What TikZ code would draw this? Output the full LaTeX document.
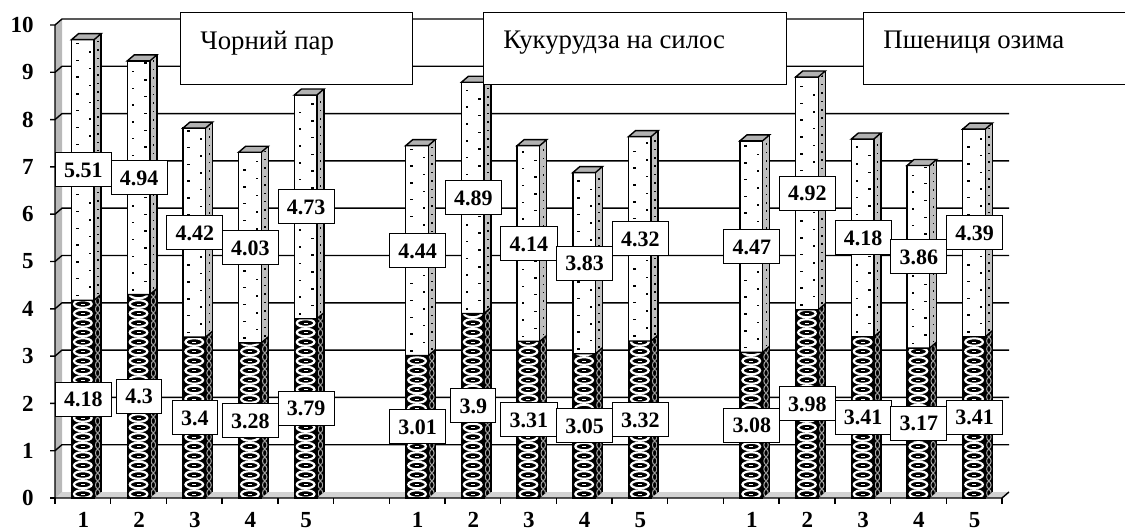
\documentclass[tikz,border=0pt]{standalone}
\usepackage{fontspec}
\setmainfont{Liberation Serif}
\usetikzlibrary{calc}

\begin{document}
\begin{tikzpicture}[%
    x=0.5pt, y=0.5pt,           % one unit is one pixel of the chart
    line join=miter,
    ]
% -------------------------------------------------
% A few styles
\tikzset{
  grid/.style={line width=0.7pt, black},
  face/.style={draw=black, line width=0.7pt},
  val/.style={draw, line width=0.5pt, fill=white, inner xsep=4.4pt, inner ysep=4.7pt,
      text height=7.6pt, text depth=0pt, font=\bfseries\fontsize{11}{13}\selectfont},
  axnum/.style={inner sep=0pt, font=\bfseries\fontsize{11.5}{13}\selectfont},
  legbox/.style={draw, line width=0.65pt, fill=white, minimum height=36pt, anchor=south west},
  legtext/.style={inner sep=0pt, anchor=base west, font=\fontsize{13.4}{15}\selectfont}
}
\useasboundingbox (0,0) rectangle (1125,531);
\clip (0,0) rectangle (1125,531);
% -------------------------------------------------
% Floor, wall and grid
\fill[gray!35] (55,33) -- (1002,33) -- (1009,39) -- (62,39) -- cycle;
\fill[gray!55] (55,33) -- (62,39) -- (62,512) -- (55,506) -- cycle;
\foreach \v in {1,...,10}
  \draw[grid] (50,33+47.3*\v) -- (55,33+47.3*\v) -- (62,39+47.3*\v) -- (1009,39+47.3*\v);
\draw[grid] (55,506) -- (55,33) -- (1002,33) -- (1009,39);
\draw[grid] (50,33) -- (55,33);
\foreach \k in {0,...,17}
  \draw[grid] (55+55.7*\k,33) -- (55+55.7*\k,27);
\foreach \v in {0,...,10}
  \node[axnum, anchor=east] (y\v) at (34,33+47.3*\v) {\v};
\foreach \i/\c in {0/1,1/2,2/3,3/4,4/5,6/1,7/2,8/3,9/4,10/5,12/1,13/2,14/3,15/4,16/5}
  \node[axnum] (x\i) at (55.5+55.7*\i+27.85,11) {\c};
% -------------------------------------------------
% Bars: slot / lower part / upper part
\foreach \i/\lo/\hi in {0/4.18/5.51, 1/4.3/4.94, 2/3.4/4.42, 3/3.28/4.03, 4/3.79/4.73,
    6/3.01/4.44, 7/3.9/4.89, 8/3.31/4.14, 9/3.05/3.83, 10/3.32/4.32,
    12/3.08/4.47, 13/3.98/4.92, 14/3.41/4.18, 15/3.17/3.86, 16/3.41/4.39} {
  \pgfmathsetmacro\cx{55+55.7*(\i+0.5)}
  \pgfmathsetmacro\xl{\cx-11.3}
  \pgfmathsetmacro\xr{\cx+11.3}
  \pgfmathsetmacro\ym{33+47.3*\lo}
  \pgfmathsetmacro\yt{33+47.3*(\lo+\hi)}
  % lower part, rings
  \begin{scope}
    \clip (\xl,33) rectangle (\xr,\ym);
    \fill[black] (\xl,33) rectangle (\xr,\ym);
    \foreach \k in {0,...,24} {
      \draw[white, line width=1.1pt] (\cx,37+9.5*\k) ellipse [x radius=4.4pt, y radius=1.9pt];
      \fill[white] (\cx-2,36.5+9.5*\k) rectangle +(4,1);
    }
  \end{scope}
  \begin{scope}
    \clip (\xr,33) -- (\xr+7,39) -- (\xr+7,\ym+6) -- (\xr,\ym) -- cycle;
    \fill[black] (\xr,33) rectangle (\xr+7,\ym+6);
    \foreach \k in {0,...,25}
      \draw[gray!70, line width=0.5pt] (\xr+3.5,38+8*\k) ellipse [x radius=1.1pt, y radius=1.8pt];
  \end{scope}
  % upper part, dots
  \fill[white] (\xl,\ym) rectangle (\xr,\yt);
  \fill[gray!50] (\xr,\ym) -- (\xr+7,\ym+6) -- (\xr+7,\yt+6) -- (\xr,\yt) -- cycle;
  \begin{scope}
    \clip (\xl,\ym+1) rectangle (\xr,\yt-2);
    \foreach \k in {0,...,16} {
      \fill (\xl+4.5,\ym+4+16.8*\k) rectangle +(2.5,1.5);
      \fill (\xl+17,\ym+12.4+16.8*\k) rectangle +(2.5,1.5);
    }
  \end{scope}
  \begin{scope}
    \clip (\xr,\ym+2) -- (\xr+7,\ym+8) -- (\xr+7,\yt+4) -- (\xr,\yt-2) -- cycle;
    \foreach \k in {0,...,33}
      \fill (\xr+3,\ym+6+8.4*\k) rectangle +(1.5,1.5);
  \end{scope}
  % outlines
  \draw[face] (\xl,33) rectangle (\xr,\yt);
  \draw[face] (\xl,\ym) -- (\xr,\ym) -- (\xr+7,\ym+6);
  \draw[face] (\xr+7,39) -- (\xr+7,\yt+6);
  \filldraw[face, fill=gray!60] (\xl,\yt) -- (\xr,\yt) -- (\xr+7,\yt+6) -- (\xl+7,\yt+6) -- cycle;
}
% -------------------------------------------------
% Value labels
\foreach \i/\lo/\hi in {0/4.18/5.51, 1/4.3/4.94, 2/3.4/4.42, 3/3.28/4.03, 4/3.79/4.73,
    6/3.01/4.44, 7/3.9/4.89, 8/3.31/4.14, 9/3.05/3.83, 10/3.32/4.32,
    12/3.08/4.47, 13/3.98/4.92, 14/3.41/4.18, 15/3.17/3.86, 16/3.41/4.39} {
  \pgfmathsetmacro\cx{55.5+55.7*(\i+0.5)}
  \node[val] (lo\i) at (\cx,33+23.65*\lo) {\lo};
  \node[val] (hi\i) at (\cx,33+47.3*\lo+23.65*\hi) {\hi};
}
% -------------------------------------------------
% Legend boxes
\node[legbox, minimum width=116pt] (box1) at (180,446) {};
\node[legbox, minimum width=151.5pt] (box2) at (483,446) {};
\node[legbox, minimum width=134pt] (box3) at (863,446) {};
\node[legtext] (leg1) at (200,481) {Чорний пар};
\node[legtext] (leg2) at (503,482) {Кукурудза на силос};
\node[legtext] (leg3) at (883,482) {Пшениця озима};
% -------------------------------------------------
\end{tikzpicture}
\end{document}
